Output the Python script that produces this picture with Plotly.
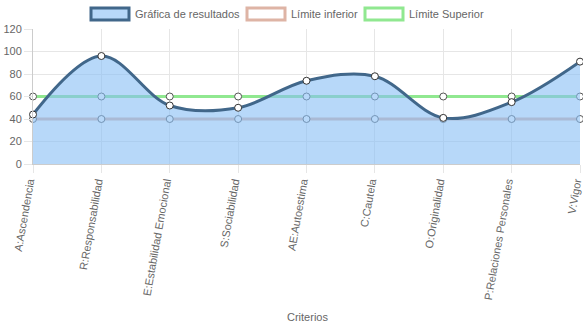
import plotly.graph_objects as go

criterios = ["A:Ascendencia", "R:Responsabilidad", "E:Estabilidad Emocional",
             "S:Sociabilidad", "AE:Autoestima", "C:Cautela", "O:Originalidad",
             "P:Relaciones Personales", "V:Vigor"]
resultados = [44, 96, 52, 50, 74, 78, 41, 55, 91]
limite_inferior = [40, 40, 40, 40, 40, 40, 40, 40, 40]
limite_superior = [60, 60, 60, 60, 60, 60, 60, 60, 60]

COL_RES_LINE = "#41678a"
COL_RES_FILL = "rgba(135,190,245,0.6)"
COL_INF = "rgb(222,180,165)"
COL_SUP = "rgb(144,232,144)"
FONT = "Liberation Sans, Arial, sans-serif"
TXT = "#666666"

W, H = 583, 328
L, R, T, B = 33, 3, 29, 164

fig = go.Figure()

marker_lim = dict(size=7, color="white", line=dict(color="#555555", width=1))

fig.add_trace(go.Scatter(
    x=criterios, y=limite_superior, mode="lines+markers", name="Límite Superior",
    line=dict(color=COL_SUP, width=3), marker=marker_lim, showlegend=False,
    cliponaxis=False))
fig.add_trace(go.Scatter(
    x=criterios, y=limite_inferior, mode="lines+markers", name="Límite inferior",
    line=dict(color=COL_INF, width=3), marker=marker_lim, showlegend=False,
    cliponaxis=False))
fig.add_trace(go.Scatter(
    x=criterios, y=resultados, mode="lines+markers", name="Gráfica de resultados",
    line=dict(color=COL_RES_LINE, width=3, shape="spline", smoothing=1.0),
    fill="tozeroy", fillcolor=COL_RES_FILL,
    marker=dict(size=7, color="white", line=dict(color="#333333", width=1)),
    showlegend=False, cliponaxis=False))

# legend drawn as boxes + labels across the top
legend_items = [
    ("Gráfica de resultados", COL_RES_FILL, COL_RES_LINE, 91),
    ("Límite inferior", "white", COL_INF, 247),
    ("Límite Superior", "white", COL_SUP, 365),
]
pw = W - L - R
ph = H - T - B
def px2x(px):
    return (px - L) / pw
def py2y(py):
    return (H - B - py) / ph

shapes = []
annotations = []
for label, fillc, linec, x0 in legend_items:
    shapes.append(dict(type="rect", xref="paper", yref="paper",
                       x0=px2x(x0), x1=px2x(x0 + 38), y0=py2y(20), y1=py2y(8),
                       fillcolor=fillc, line=dict(color=linec, width=3)))
    annotations.append(dict(text=label, xref="paper", yref="paper",
                            x=px2x(x0 + 42), y=py2y(14), xanchor="left", yanchor="middle",
                            showarrow=False, font=dict(family=FONT, size=11, color=TXT)))

annotations.append(dict(text="Criterios", xref="paper", yref="paper",
                        x=px2x(307), y=py2y(317), xanchor="center", yanchor="middle",
                        showarrow=False, font=dict(family=FONT, size=11, color=TXT)))

fig.update_layout(
    width=W, height=H,
    margin=dict(l=L, r=R, t=T, b=B, pad=0, autoexpand=False),
    paper_bgcolor="white", plot_bgcolor="white",
    shapes=shapes, annotations=annotations,
    font=dict(family=FONT, size=11, color=TXT),
    xaxis=dict(type="category", range=[0, 8], showgrid=True, gridcolor="#e6e6e6",
               ticks="outside", ticklen=8, tickcolor="#e6e6e6", tickangle=-80,
               ticklabelshift=-4, ticklabelstandoff=-2,
               showline=True, linecolor="#cccccc", linewidth=1, zeroline=False,
               automargin=False,
               tickfont=dict(family=FONT, size=11, color=TXT)),
    yaxis=dict(range=[0, 120], dtick=20, showgrid=True, gridcolor="#e6e6e6",
               ticks="outside", ticklen=8, tickcolor="#e6e6e6",
               showline=True, linecolor="#cccccc", linewidth=1, zeroline=False,
               automargin=False,
               tickfont=dict(family=FONT, size=11, color=TXT)),
)

fig.write_html("out.html")
